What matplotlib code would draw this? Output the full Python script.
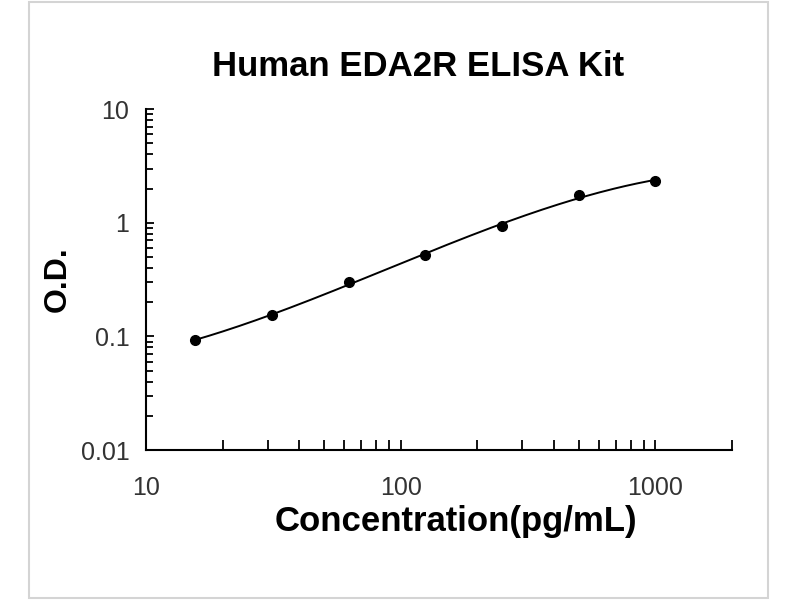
import numpy as np
import matplotlib.pyplot as plt
from matplotlib.patches import Rectangle
from matplotlib.ticker import LogLocator, NullFormatter, FixedLocator, FixedFormatter

plt.rcParams['font.family'] = ['Liberation Sans', 'DejaVu Sans']

# standard curve data
conc = [15.6, 31.25, 62.5, 125, 250, 500, 1000]
od = [0.093, 0.154, 0.30, 0.52, 0.94, 1.75, 2.34]

title = 'Human EDA2R ELISA Kit'
xlabel = 'Concentration(pg/mL)'
ylabel = 'O.D.'
xticks = [10, 100, 1000]
yticks = [0.01, 0.1, 1, 10]
ytick_labels = ['0.01', '0.1', '1', '10']

# smooth trend line: cubic fit in log-log space
lx = np.log10(conc)
ly = np.log10(od)
coef = np.polyfit(lx, ly, 3)
xs = np.linspace(lx[0], lx[-1], 200)
ys = np.polyval(coef, xs)

fig = plt.figure(figsize=(8, 6), dpi=100)
ax = fig.add_axes([0.1825, 0.25, 0.7325, 0.568])

ax.plot(10 ** xs, 10 ** ys, color='black', lw=1.4)
ax.plot(conc, od, 'o', color='black', ms=7)

ax.set_xscale('log')
ax.set_yscale('log')
ax.set_xlim(10, 2000)
ax.set_ylim(0.01, 10)

for s in ['top', 'right']:
    ax.spines[s].set_visible(False)
for s in ['left', 'bottom']:
    ax.spines[s].set_linewidth(1.5)

ax.xaxis.set_major_locator(FixedLocator(xticks))
ax.xaxis.set_major_formatter(FixedFormatter([str(t) for t in xticks]))
ax.xaxis.set_minor_locator(LogLocator(base=10, subs=np.arange(2, 10)))
ax.xaxis.set_minor_formatter(NullFormatter())
ax.yaxis.set_major_locator(FixedLocator(yticks))
ax.yaxis.set_major_formatter(FixedFormatter(ytick_labels))
ax.yaxis.set_minor_locator(LogLocator(base=10, subs=np.arange(2, 10)))
ax.yaxis.set_minor_formatter(NullFormatter())

ax.tick_params(axis='both', which='both', direction='in', width=1.3, labelsize=18,
               labelcolor='#333333')
ax.tick_params(axis='x', which='both', length=7, pad=19)
ax.tick_params(axis='y', which='major', length=6, pad=12)
ax.tick_params(axis='y', which='minor', length=5)

ax.set_xlabel(xlabel, fontsize=25, fontweight='bold')
ax.xaxis.set_label_coords(0.529, -0.16)
ax.set_ylabel(ylabel, fontsize=23, fontweight='bold', labelpad=6)
fig.text(0.523, 0.889, title, ha='center', va='center', fontsize=25, fontweight='bold')

fig.patches.append(Rectangle((0.036, 0.003), 0.924, 0.994, transform=fig.transFigure,
                             fill=False, edgecolor='#d4d4d4', lw=1.5))

fig.savefig('out.png', dpi=100)
